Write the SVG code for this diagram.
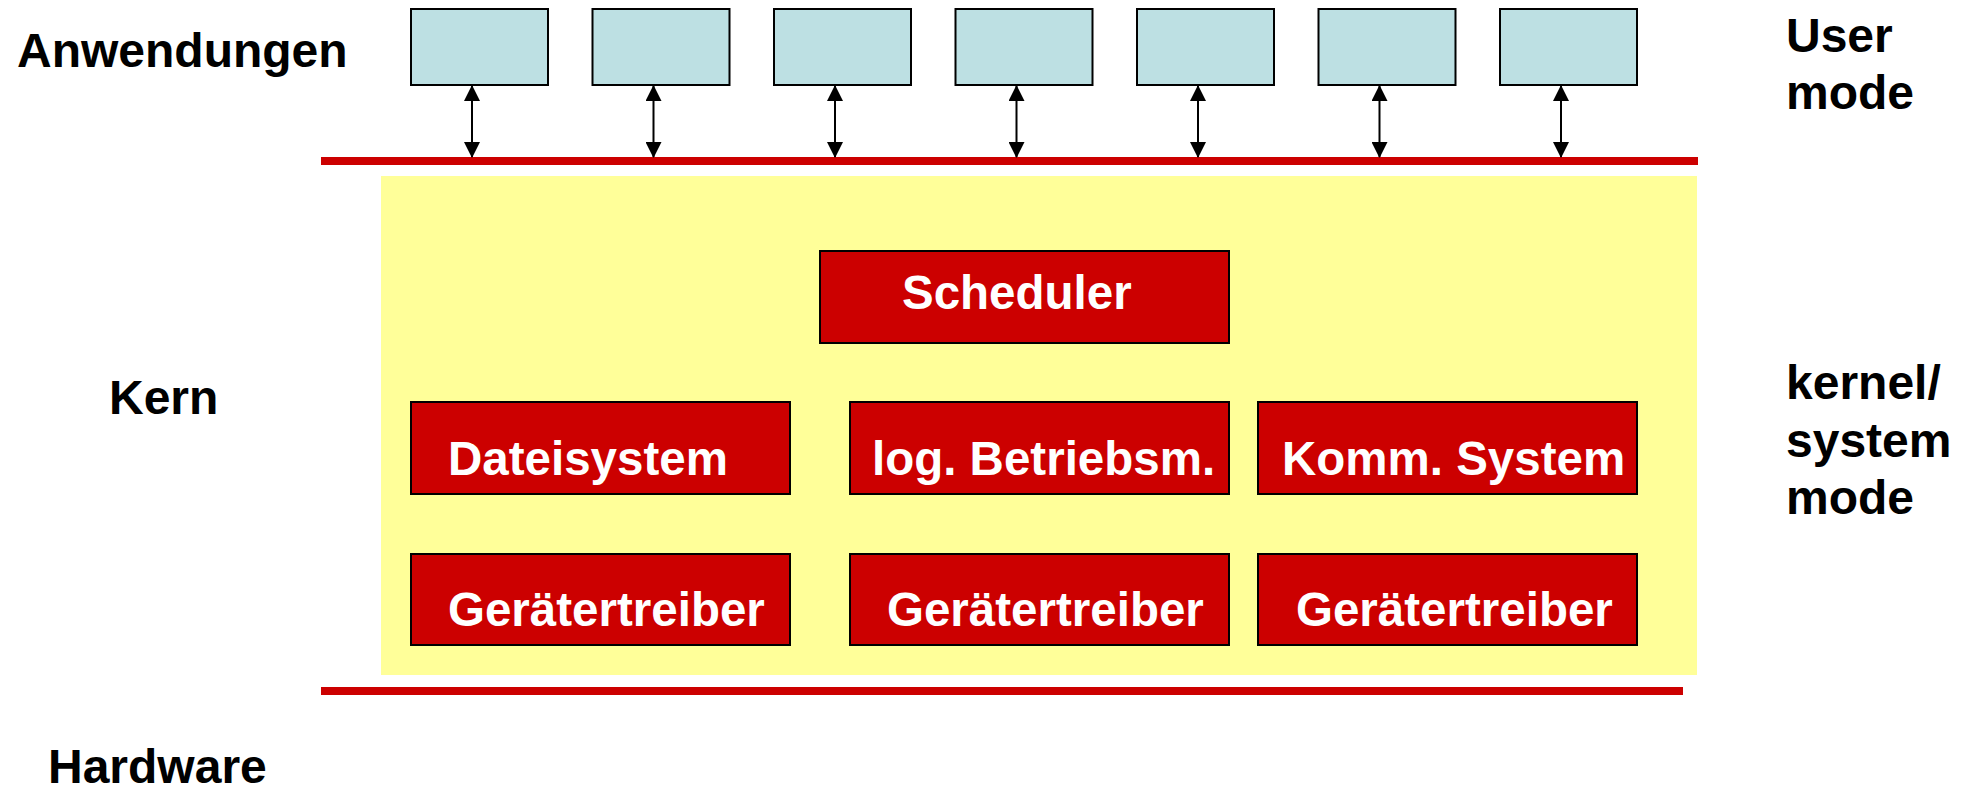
<svg xmlns="http://www.w3.org/2000/svg" width="1969" height="794" viewBox="0 0 1969 794">
<style>
.lbl{font-family:"Liberation Sans",Arial,sans-serif;font-weight:bold;font-size:48px;fill:#000}
.wt{font-family:"Liberation Sans",Arial,sans-serif;font-weight:bold;font-size:47.5px;fill:#fff}
.app{fill:#BDE0E3;stroke:#000;stroke-width:2}
.mod{fill:#CC0000;stroke:#000;stroke-width:2}
.bar{fill:#CC0000}
.conn{stroke:#000;stroke-width:2;fill:none;marker-start:url(#ah);marker-end:url(#ah)}
</style>
<defs>
<marker id="ah" markerUnits="userSpaceOnUse" markerWidth="16" markerHeight="16" viewBox="0 0 16 16" refX="15" refY="8" orient="auto-start-reverse">
<path d="M0,0 L16,8 L0,16 Z" fill="#000"/>
</marker>
</defs>
<rect width="1969" height="794" fill="#fff"/>
<g id="kernel-area"><rect x="381" y="176" width="1316" height="499" fill="#FFFF99"/></g>
<g id="user-kernel-boundary"><rect class="bar" x="321" y="157" width="1377" height="8"/></g>
<g id="kernel-hardware-boundary"><rect class="bar" x="321" y="687" width="1362" height="8"/></g>
<g id="app1"><rect class="app" x="411" y="9" width="137" height="76"/></g>
<g id="app2"><rect class="app" x="592.5" y="9" width="137" height="76"/></g>
<g id="app3"><rect class="app" x="774" y="9" width="137" height="76"/></g>
<g id="app4"><rect class="app" x="955.5" y="9" width="137" height="76"/></g>
<g id="app5"><rect class="app" x="1137" y="9" width="137" height="76"/></g>
<g id="app6"><rect class="app" x="1318.5" y="9" width="137" height="76"/></g>
<g id="app7"><rect class="app" x="1500" y="9" width="137" height="76"/></g>
<g id="connectors">
<line class="conn" x1="472" y1="86" x2="472" y2="157"/>
<line class="conn" x1="653.5" y1="86" x2="653.5" y2="157"/>
<line class="conn" x1="835" y1="86" x2="835" y2="157"/>
<line class="conn" x1="1016.5" y1="86" x2="1016.5" y2="157"/>
<line class="conn" x1="1198" y1="86" x2="1198" y2="157"/>
<line class="conn" x1="1379.5" y1="86" x2="1379.5" y2="157"/>
<line class="conn" x1="1561" y1="86" x2="1561" y2="157"/>
</g>
<g id="scheduler"><rect class="mod" x="820" y="251" width="409" height="92"/><text class="wt" x="902" y="309">Scheduler</text></g>
<g id="dateisystem"><rect class="mod" x="411" y="402" width="379" height="92"/><text class="wt" x="448" y="475">Dateisystem</text></g>
<g id="logbetriebsm"><rect class="mod" x="850" y="402" width="379" height="92"/><text class="wt" x="872" y="475">log. Betriebsm.</text></g>
<g id="kommsystem"><rect class="mod" x="1258" y="402" width="379" height="92"/><text class="wt" x="1282" y="475">Komm. System</text></g>
<g id="treiber1"><rect class="mod" x="411" y="554" width="379" height="91"/><text class="wt" x="448" y="626">Gerätertreiber</text></g>
<g id="treiber2"><rect class="mod" x="850" y="554" width="379" height="91"/><text class="wt" x="887" y="626">Gerätertreiber</text></g>
<g id="treiber3"><rect class="mod" x="1258" y="554" width="379" height="91"/><text class="wt" x="1296" y="626">Gerätertreiber</text></g>
<g id="labels">
<text class="lbl" x="48" y="783">Hardware</text>
<text class="lbl" x="17" y="67">Anwendungen</text>
<text class="lbl" x="109" y="414">Kern</text>
<text class="lbl" x="1786" y="52">User</text>
<text class="lbl" x="1786" y="109">mode</text>
<text class="lbl" x="1786" y="399">kernel/</text>
<text class="lbl" x="1786" y="457">system</text>
<text class="lbl" x="1786" y="514">mode</text>
</g>
</svg>
